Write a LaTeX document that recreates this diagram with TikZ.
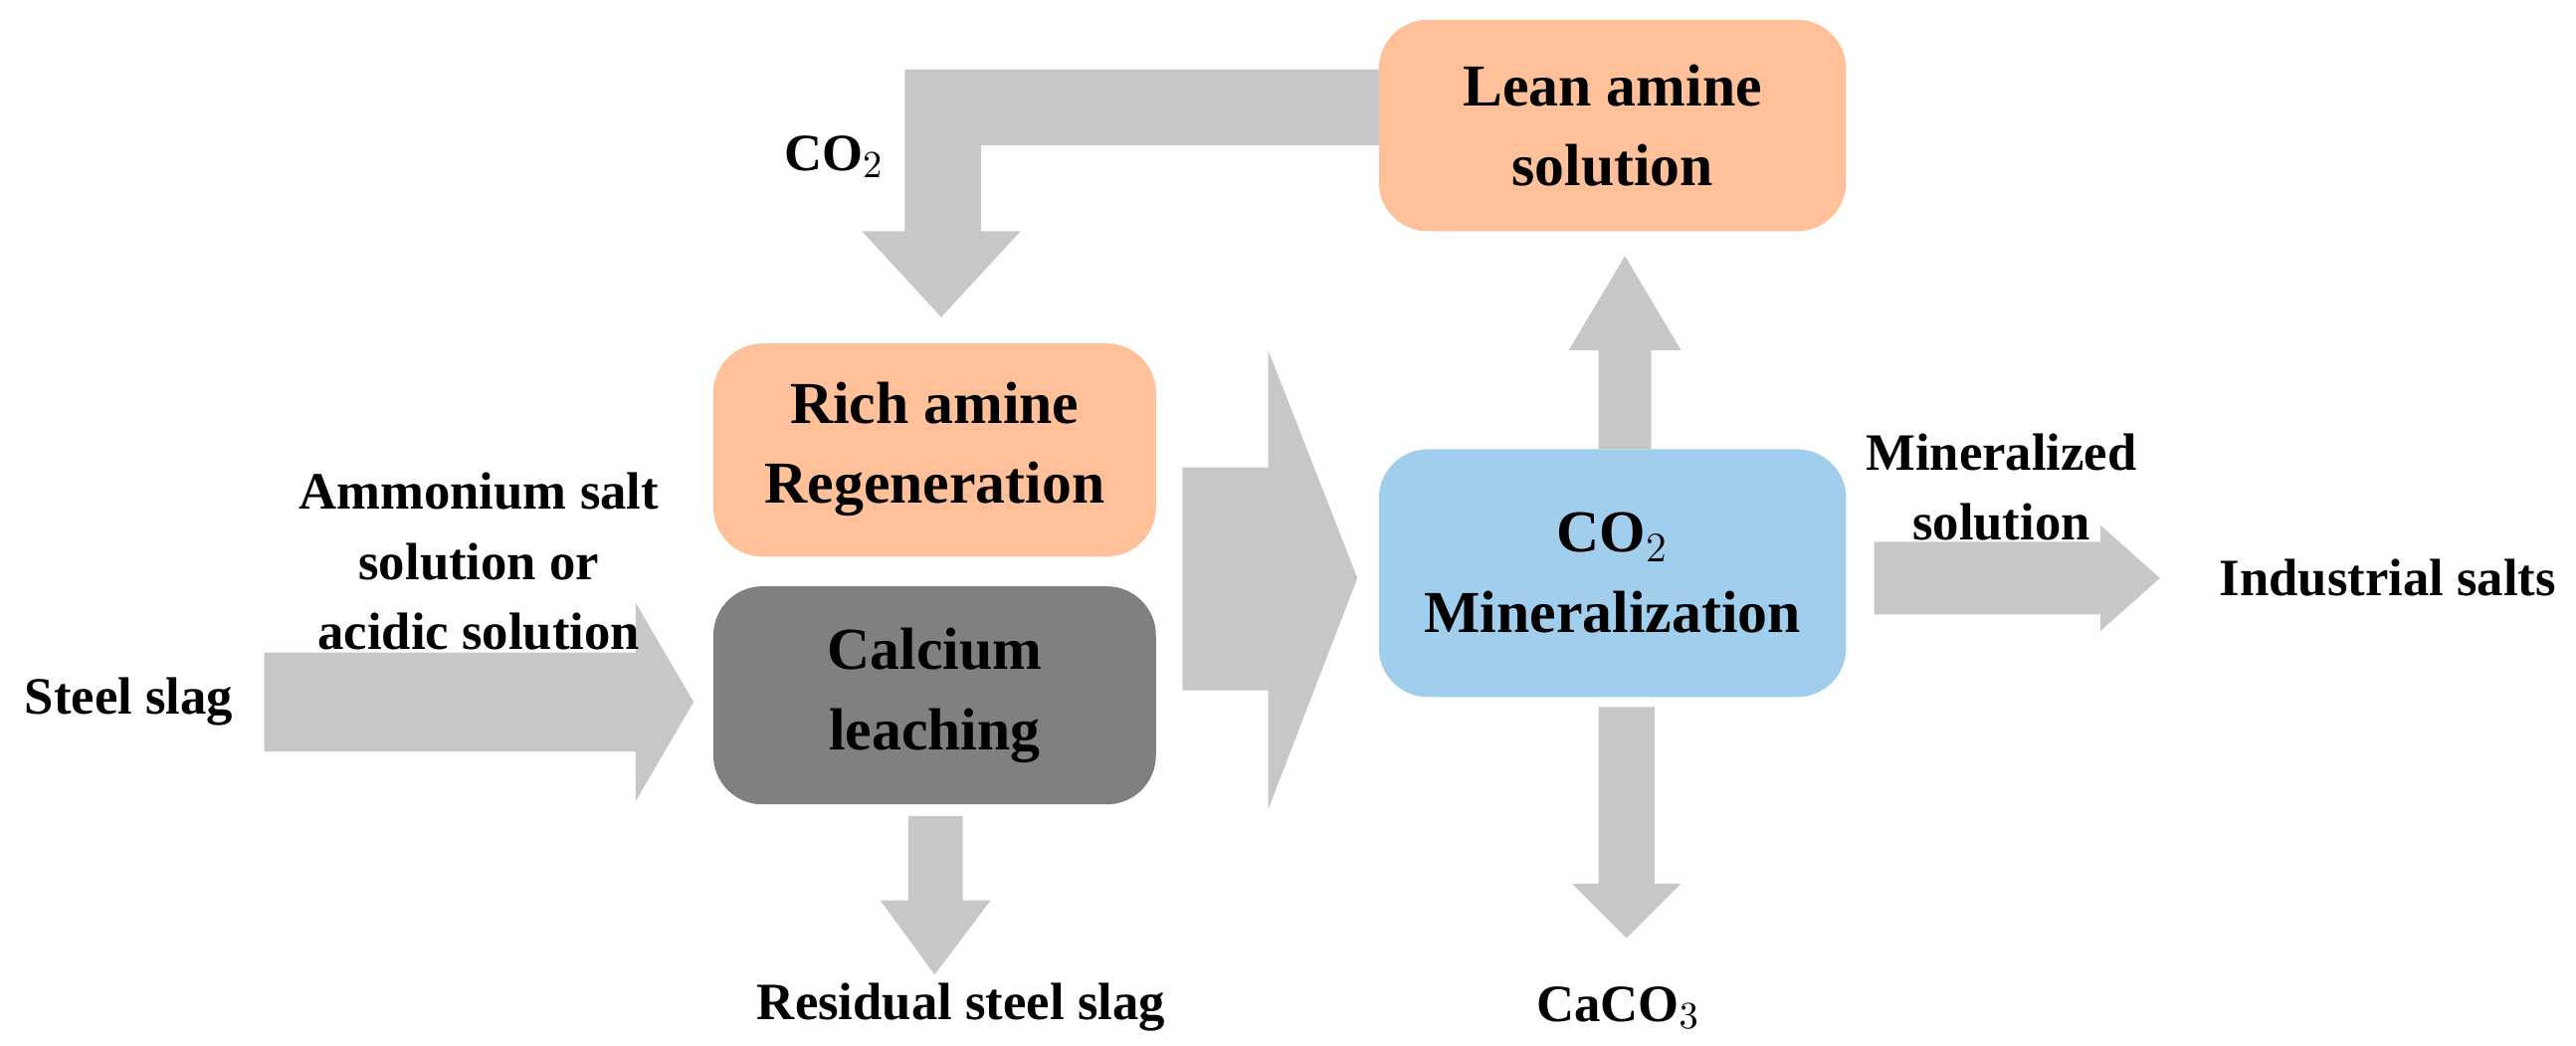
\documentclass[tikz,border=0pt]{standalone}
\usepackage{fontspec}
\setmainfont{Liberation Serif}
\begin{document}
\begin{tikzpicture}[x=0.016596cm,y=-0.016596cm,
  box/.style={rounded corners=14pt,draw=none,align=center,font=\fontsize{17}{23}\selectfont\bfseries},
  lbl/.style={align=center,font=\fontsize{15}{20}\selectfont\bfseries},
  arr/.style={fill=black!22,draw=none}]
\useasboundingbox (0,0) rectangle (1560,633);
\definecolor{peach}{HTML}{FFC09A}
\definecolor{sky}{HTML}{A0CEEC}
\definecolor{dgray}{HTML}{808080}
% boxes
\fill[peach,rounded corners=14pt] (835,12) rectangle (1118,140);
\node[box] (lean) at (976.5,76) {Lean amine\\solution};
\fill[peach,rounded corners=14pt] (432,208) rectangle (700,337);
\node[box] (rich) at (566,272) {Rich amine\\Regeneration};
\fill[dgray,rounded corners=14pt] (432,355) rectangle (700,487);
\node[box] (leach) at (566,421) {Calcium\\leaching};
\fill[sky,rounded corners=14pt] (835,272) rectangle (1118,422);
\node[box] (mine) at (976.5,347) {CO$_2$\\Mineralization};
% arrows
\fill[arr] (835,42) -- (548,42) -- (548,140) -- (522,140) -- (570,192) -- (618,140) -- (594,140) -- (594,88) -- (835,88) -- cycle;
\fill[arr] (160,395) -- (385,395) -- (385,365) -- (420,425) -- (385,485) -- (385,455) -- (160,455) -- cycle;
\fill[arr] (716,283) -- (768,283) -- (768,212) -- (822,350) -- (768,490) -- (768,418) -- (716,418) -- cycle;
\fill[arr] (968,272) -- (968,212) -- (950,212) -- (984,155) -- (1018,212) -- (1000,212) -- (1000,272) -- cycle;
\fill[arr] (1135,328) -- (1272,328) -- (1272,318) -- (1308,350) -- (1272,382) -- (1272,372) -- (1135,372) -- cycle;
\fill[arr] (968,428) -- (1002,428) -- (1002,535) -- (1018,535) -- (985,568) -- (952,535) -- (968,535) -- cycle;
\fill[arr] (550,494) -- (583,494) -- (583,545) -- (600,545) -- (566,590) -- (533,545) -- (550,545) -- cycle;
% labels
\node[lbl] (co2) at (505,95) {CO$_2$};
\node[lbl] (amm) at (290,340) {Ammonium salt\\solution or\\acidic solution};
\node[lbl] (steel) at (78,425) {Steel slag};
\node[lbl] (resid) at (582,610) {Residual steel slag};
\node[lbl] (caco) at (980,610) {CaCO$_3$};
\node[lbl] (minsol) at (1212,295) {Mineralized\\solution};
\node[lbl] (ind) at (1446,350) {Industrial salts};
\end{tikzpicture}
\end{document}
